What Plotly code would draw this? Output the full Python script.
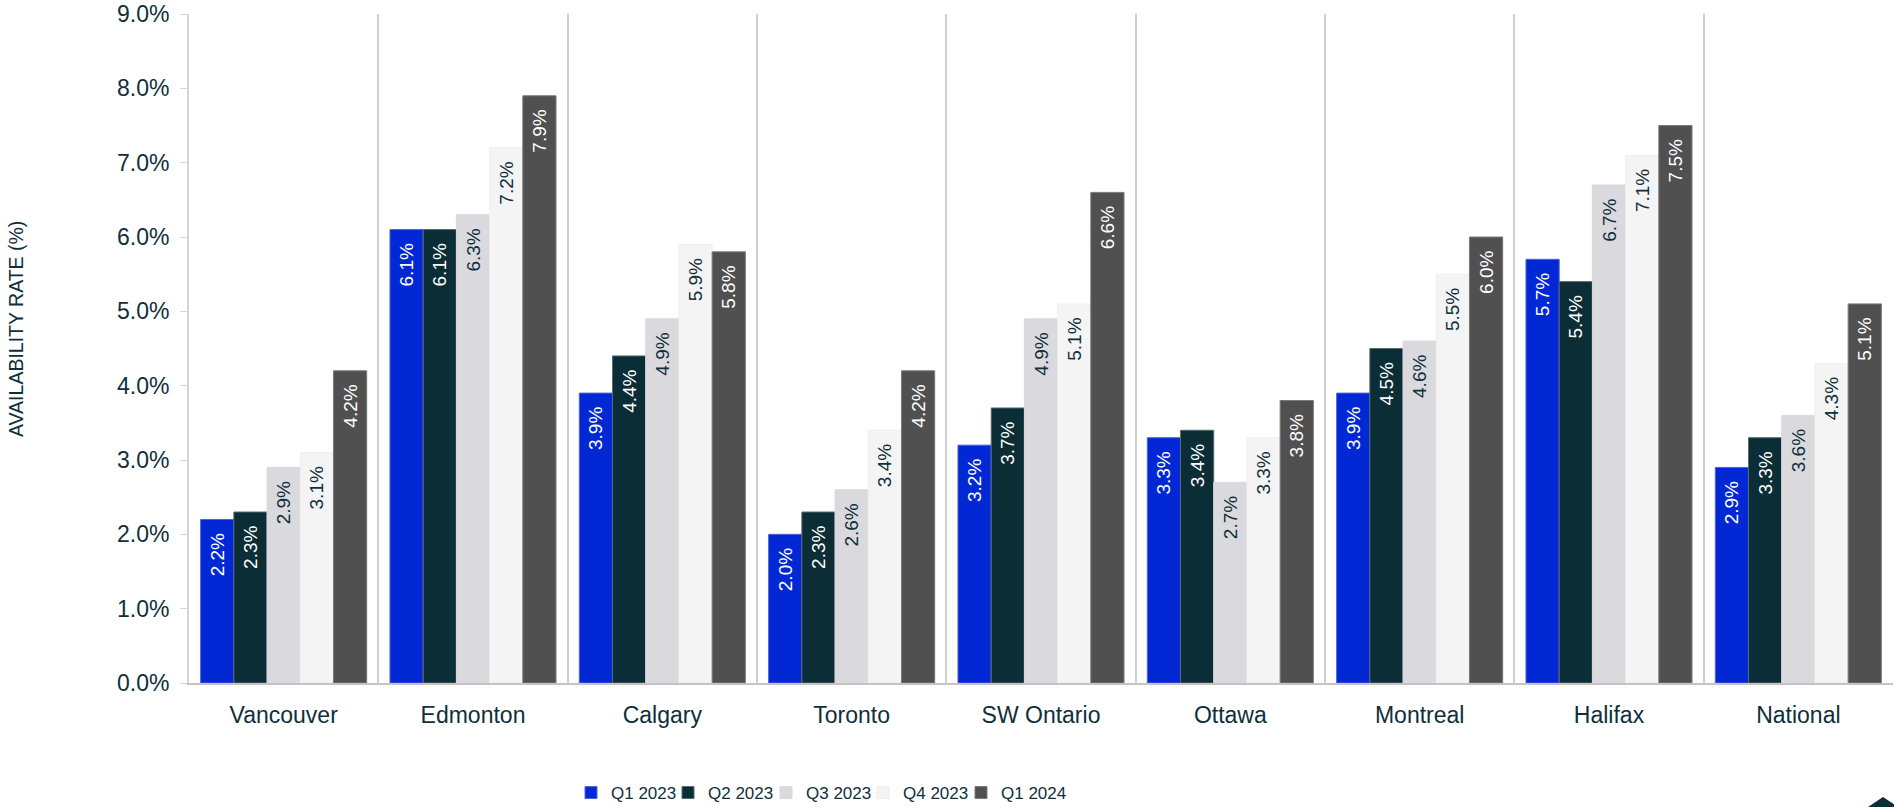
import plotly.graph_objects as go

# Industrial availability rate by market, quarterly
markets = ["Vancouver", "Edmonton", "Calgary", "Toronto", "SW Ontario",
           "Ottawa", "Montreal", "Halifax", "National"]

q1_2023 = [2.2, 6.1, 3.9, 2.0, 3.2, 3.3, 3.9, 5.7, 2.9]
q2_2023 = [2.3, 6.1, 4.4, 2.3, 3.7, 3.4, 4.5, 5.4, 3.3]
q3_2023 = [2.9, 6.3, 4.9, 2.6, 4.9, 2.7, 4.6, 6.7, 3.6]
q4_2023 = [3.1, 7.2, 5.9, 3.4, 5.1, 3.3, 5.5, 7.1, 4.3]
q1_2024 = [4.2, 7.9, 5.8, 4.2, 6.6, 3.8, 6.0, 7.5, 5.1]

series_names = ["Q1 2023", "Q2 2023", "Q3 2023", "Q4 2023", "Q1 2024"]
series_values = [q1_2023, q2_2023, q3_2023, q4_2023, q1_2024]

bar_colors = ["#0228d6", "#0b2d36", "#dad9de", "#f4f4f4", "#505050"]
edge_colors = ["#4d63dc", "#5a6a70", "#dad9de", "#eeeeee", "#7a7a7a"]
label_colors = ["#ffffff", "#ffffff", "#0f2f3b", "#0f2f3b", "#ffffff"]

TEXT = "#0f2f3b"
W, H = 1894, 807
L, R, T, B = 189, 1, 14, 124
PW, PH = W - L - R, H - T - B


def px_x(p):
    return (p - L) / PW


def px_y(p):
    return (H - B - p) / PH


# left edge (px) of each legend swatch, one legend per series
legend_left_px = [587, 684, 782, 879, 977]
legend_ids = ["legend", "legend2", "legend3", "legend4", "legend5"]

fig = go.Figure()
for name, vals, col, edge, lab, lid in zip(series_names, series_values,
                                           bar_colors, edge_colors,
                                           label_colors, legend_ids):
    fig.add_trace(go.Bar(
        name=name, x=markets, y=vals, legend=lid,
        marker=dict(color=col, line=dict(color=edge, width=1)),
        texttemplate="%{y:.1f}%\u00a0\u00a0",
        textposition="inside", insidetextanchor="end", textangle=-90,
        insidetextfont=dict(family="Liberation Sans, Arial, sans-serif",
                            size=19, color=lab),
        constraintext="none",
        cliponaxis=False,
    ))

legend_font = dict(family="Liberation Sans, Arial, sans-serif",
                   size=17, color=TEXT)
legends = {}
for lid, left in zip(legend_ids, legend_left_px):
    legends[lid] = dict(
        orientation="h", x=px_x(left - 16), xanchor="left",
        y=px_y(793), yanchor="middle",
        font=legend_font, itemwidth=30, bgcolor="rgba(0,0,0,0)",
    )

fig.update_layout(
    width=W, height=H,
    margin=dict(l=L, r=R, t=T, b=B, pad=0, autoexpand=False),
    paper_bgcolor="white", plot_bgcolor="white",
    barmode="group", bargap=0.123, bargroupgap=0,
    font=dict(family="Liberation Sans, Arial, sans-serif", color=TEXT),
    showlegend=True,
    xaxis=dict(
        type="category", tickson="boundaries",
        showgrid=True, gridcolor="#d0d0d0", gridwidth=2,
        showline=True, linecolor="#c4c4c4", linewidth=2,
        ticks="", tickfont=dict(size=23, color=TEXT),
        ticklabelstandoff=10,
        range=[-0.5, len(markets) - 0.5],
    ),
    yaxis=dict(
        range=[0, 9], dtick=1, tickformat=".1f", ticksuffix="%",
        showgrid=False, zeroline=False,
        showline=True, linecolor="#d4d4d4", linewidth=2,
        ticks="outside", ticklen=7, tickcolor="#d4d4d4", tickwidth=1,
        tickfont=dict(size=23, color=TEXT),
        ticklabelstandoff=6,
    ),
    annotations=[dict(
        text="AVAILABILITY RATE (%)", textangle=-90,
        xref="paper", yref="paper", x=px_x(16), y=px_y(329),
        xanchor="center", yanchor="middle", showarrow=False,
        font=dict(size=19.5, color=TEXT),
    )],
    shapes=[dict(
        type="path", xref="paper", yref="paper",
        path="M {a},{b} L {c},{d} L {e},{d} Z".format(
            a=px_x(1883), b=px_y(797), c=px_x(1865), d=px_y(809), e=px_x(1901)),
        fillcolor="#0b2d36", line=dict(width=0), layer="above",
    )],
    **legends,
)

fig.write_html("out.html")
